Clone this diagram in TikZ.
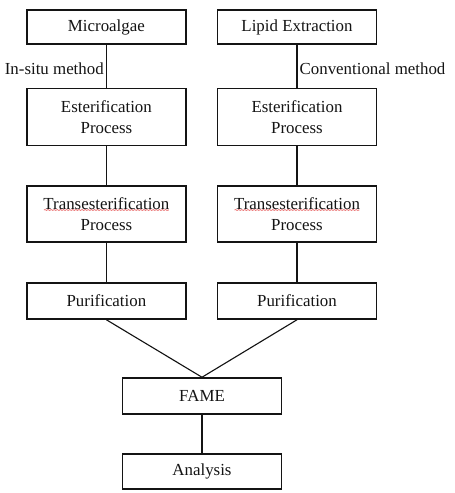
\documentclass[tikz,border=0pt]{standalone}
\usepackage{fontspec}
\setmainfont{Liberation Serif}
\usetikzlibrary{positioning,calc,decorations.pathmorphing}
\definecolor{ink}{HTML}{141414}
\definecolor{squig}{HTML}{E23A3A}
\tikzset{
  every picture/.style={line join=miter},
  stage/.style={draw=ink, line width=1.1pt, fill=white, align=center, text=ink,
    font=\fontsize{12}{15}\selectfont, minimum width=3.975cm, inner sep=2pt},
  link/.style={draw=ink, line width=0.8pt},
  lbl/.style={font=\fontsize{12}{14}\selectfont, text=ink, inner sep=1.5pt},
  spell/.style={draw=squig, line width=0.4pt, decorate,
    decoration={snake, amplitude=0.3pt, segment length=2.2pt}},
}

\begin{document}
\begin{tikzpicture}
  \useasboundingbox (0,0) rectangle (11.375,-12.325);
  % ---------------- two routes ----------------
  \node[stage, minimum height=0.85cm] (micro) at (2.66,-0.675) {Microalgae};
  \node[stage, minimum height=0.85cm] (lipid) at (7.425,-0.675) {Lipid Extraction};
  \node[stage, minimum height=1.425cm] (estL) at (2.66,-2.92) {Esterification\\Process};
  \node[stage, minimum height=1.425cm] (estR) at (7.425,-2.92) {Esterification\\Process};
  \node[stage, minimum height=1.4cm] (transL) at (2.66,-5.35) {Transesterification\\Process};
  \node[stage, minimum height=1.4cm] (transR) at (7.425,-5.35) {Transesterification\\Process};
  \node[stage, minimum height=0.9cm] (puriL) at (2.66,-7.525) {Purification};
  \node[stage, minimum height=0.9cm] (puriR) at (7.425,-7.525) {Purification};
  \draw[link] (micro) -- (estL) node[lbl, pos=0.57, left] {In-situ method};
  \draw[link] (lipid) -- (estR) node[lbl, pos=0.57, right] {Conventional method};
  \draw[link] (estL) -- (transL);
  \draw[link] (estR) -- (transR);
  \draw[link] (transL) -- (puriL);
  \draw[link] (transR) -- (puriR);
  % spell-check marks under the long word
  \foreach \t in {transL,transR}{
    \draw[spell] ($(\t.center)+(-1.56,0.1)$) -- ++(3.12,0);}

  % ---------------- joined end ----------------
  \node[stage, minimum height=0.9cm] (fame) at (5.05,-9.9) {FAME};
  \node[stage, minimum height=0.875cm] (anal) at (5.05,-11.79) {Analysis};
  \draw[link] (puriL.south) -- (fame.north);
  \draw[link] (puriR.south) -- (fame.north);
  \draw[link] (fame) -- (anal);
\end{tikzpicture}
\end{document}
